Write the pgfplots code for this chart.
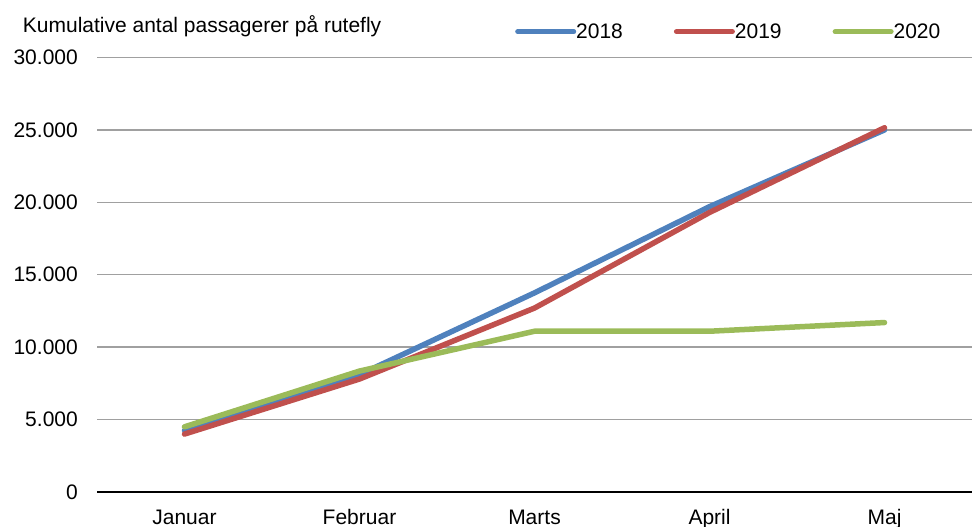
\documentclass[border=0pt]{standalone}
\usepackage{pgfplots}
\pgfplotsset{compat=1.18}
\usepackage{fontspec}
\setmainfont{Liberation Sans}
\definecolor{c2018}{RGB}{79,129,189}
\definecolor{c2019}{RGB}{192,80,77}
\definecolor{c2020}{RGB}{155,187,89}
\definecolor{gridc}{RGB}{160,160,160}
\begin{document}
\begin{tikzpicture}
\useasboundingbox (0,0) rectangle (977bp,527bp);
\node[anchor=base west, inner sep=0pt, font=\fontsize{21bp}{25bp}\selectfont] at (22.7bp,494.3bp) {Kumulative antal passagerer på rutefly};
\begin{axis}[
  at={(97bp,35bp)}, anchor=south west,
  scale only axis, width=875bp, height=434.5bp,
  xmin=-0.5, xmax=4.5, ymin=0, ymax=30000,
  xtick={0,1,2,3,4},
  xticklabels={Januar,Februar,Marts,April,Maj},
  ytick={0,5000,10000,15000,20000,25000,30000},
  axis y line*=left, axis x line*=bottom,
  y axis line style={draw=none},
  x axis line style={black, line width=2bp, -},
  major tick length=0pt,
  ymajorgrids, major grid style={gridc, line width=1.5bp},
  /pgf/number format/.cd, 1000 sep={.}, assume math mode=true, /pgfplots/.cd,
  scaled y ticks=false,
  tick label style={font=\fontsize{21bp}{25bp}\selectfont, inner sep=0pt},
  yticklabel style={anchor=east, xshift=-19bp},
  xticklabel style={anchor=base, yshift=-32bp},
  legend columns=3,
  legend style={draw=none, fill=none, at={(0.4743,1.0594)}, anchor=west,
    font=\fontsize{21bp}{25bp}\selectfont,
    nodes={inner sep=0pt},
    /tikz/every odd column/.append style={column sep=0bp},
    /tikz/every even column/.append style={column sep=51bp}},
  legend image code/.code={\draw[#1, line width=5bp, line cap=round] (0bp,0bp) -- (56bp,0bp);},
  every axis plot/.append style={line width=5.5bp, line cap=round, line join=round},
]
\addplot[c2018] coordinates {(0,4250) (1,8100) (2,13750) (3,19700) (4,25000)};
\addlegendentry{2018}
\addplot[c2019] coordinates {(0,4000) (1,7800) (2,12700) (3,19300) (4,25150)};
\addlegendentry{2019}
\addplot[c2020] coordinates {(0,4500) (1,8350) (2,11100) (3,11100) (4,11700)};
\addlegendentry{2020}
\end{axis}
\end{tikzpicture}
\end{document}
